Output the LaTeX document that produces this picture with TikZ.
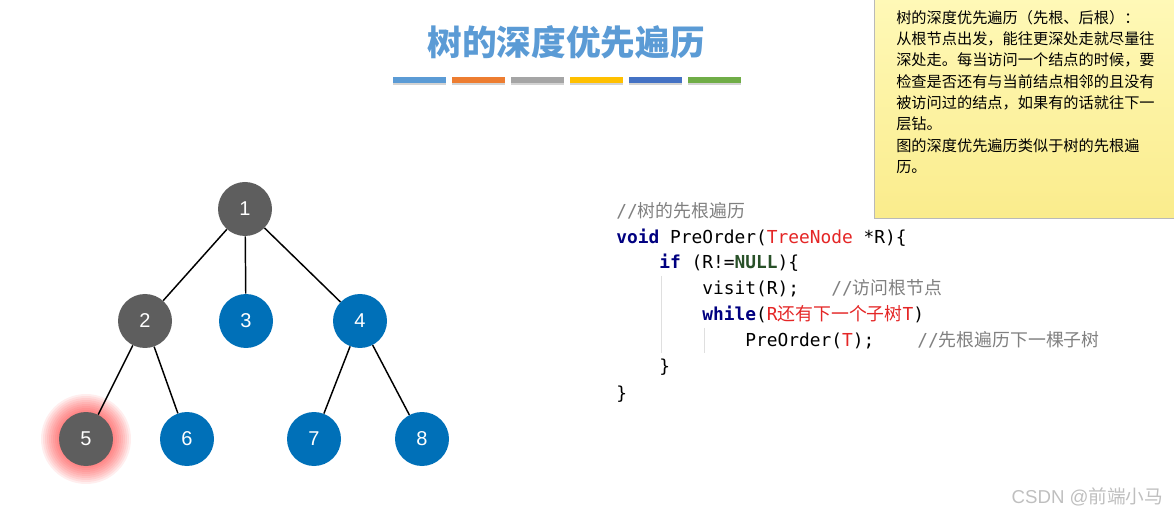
\documentclass[tikz,border=0pt]{standalone}
\usepackage{fontspec}
\setmainfont{Liberation Sans}
\setmonofont{DejaVu Sans Mono}
\newfontfamily\cjk{Noto Sans CJK SC}
\usetikzlibrary{positioning, shadows}
\definecolor{TitleBlue}{RGB}{91,155,213}
\definecolor{BarOrange}{RGB}{237,125,49}
\definecolor{BarGray}{RGB}{165,165,165}
\definecolor{BarYellow}{RGB}{255,192,0}
\definecolor{BarBlue}{RGB}{68,114,196}
\definecolor{BarGreen}{RGB}{112,173,71}
\definecolor{NodeGray}{RGB}{94,94,94}
\definecolor{NodeBlue}{RGB}{0,112,184}
\definecolor{KwBlue}{RGB}{0,0,128}
\definecolor{KwGreen}{RGB}{40,80,40}
\definecolor{CodeRed}{RGB}{228,38,38}
\definecolor{CmtGray}{RGB}{128,128,128}
\definecolor{NoteTop}{RGB}{255,249,184}
\definecolor{NoteBot}{RGB}{250,236,140}
\newcommand{\kw}[1]{\textcolor{KwBlue}{\bfseries #1}}
\newcommand{\cm}[1]{\textcolor{CmtGray}{#1}}
\newcommand{\rd}[1]{\textcolor{CodeRed}{#1}}

\begin{document}
\begin{tikzpicture}[x=0.75pt, y=-0.75pt,
    vtx/.style={circle, minimum size=40.5pt, inner sep=0pt, text=white,
                font=\fontsize{15}{15}\selectfont},
    grayv/.style={vtx, fill=NodeGray},
    bluev/.style={vtx, fill=NodeBlue},
    edge/.style={line width=1.1pt, black},
    code/.style={anchor=base west, inner sep=0pt, font=\fontsize{13.4}{13.4}\ttfamily},
    bar/.style={minimum width=39.75pt, minimum height=4.8pt, inner sep=0pt,
                drop shadow={shadow xshift=0.6pt, shadow yshift=-1.6pt, opacity=0.35}}
]
\useasboundingbox (0,0) rectangle (1174,516);

% title and coloured bars
\node[font=\cjk\bfseries\fontsize{26}{26}\selectfont, text=TitleBlue] (title) at (566,42) {树的深度优先遍历};
\foreach \c [count=\i] in {TitleBlue, BarOrange, BarGray, BarYellow, BarBlue, BarGreen}
    \node[bar, fill=\c] (bar\i) at ({360+59*\i},80) {};

% note box
\shade[top color=NoteTop, bottom color=NoteBot, draw=gray!55] (874,-5) rectangle (1180,218);
\node[anchor=north west, inner sep=0pt, align=left,
      font=\cjk\fontsize{11.4}{16}\selectfont] (note) at (896,10)
    {树的深度优先遍历（先根、后根）：\\
     从根节点出发，能往更深处走就尽量往\\
     深处走。每当访问一个结点的时候，要\\
     检查是否还有与当前结点相邻的且没有\\
     被访问过的结点，如果有的话就往下一\\
     层钻。\\
     图的深度优先遍历类似于树的先根遍\\
     历。};

% tree
\coordinate (g5) at (86,439);
\foreach \r in {27,29,...,45}
    \fill[red, opacity=0.065] (g5) circle (\r);
\node[grayv] (n1) at (245,209) {1};
\node[grayv] (n2) at (145,321) {2};
\node[bluev] (n3) at (246,321) {3};
\node[bluev] (n4) at (360,321) {4};
\node[grayv] (n5) at (g5) {5};
\node[bluev] (n6) at (187,439) {6};
\node[bluev] (n7) at (314,439) {7};
\node[bluev] (n8) at (422,439) {8};
\foreach \a/\b in {1/2, 1/3, 1/4, 2/5, 2/6, 4/7, 4/8}
    \draw[edge] (n\a) -- (n\b);

% code
\draw[gray!25, line width=0.6pt] (661,276) -- (661,353);
\draw[gray!25, line width=0.6pt] (704,328) -- (704,353);
\node[code] (c1) at (616,218) {\cm{//{\cjk 树的先根遍历}}};
\node[code] (c2) at (616,244) {\kw{void} PreOrder(\rd{TreeNode} *R)\{};
\node[code] (c3) at (659,269) {\kw{if} (R!=\textcolor{KwGreen}{\bfseries NULL})\{};
\node[code] (c4) at (702,295) {visit(R);\phantom{xxx}\cm{//{\cjk 访问根节点}}};
\node[code] (c5) at (702,321) {\kw{while}(\rd{R{\cjk 还有下一个子树}T})};
\node[code] (c6) at (745,347) {PreOrder(\rd{T});\phantom{xxxx}\cm{//{\cjk 先根遍历下一棵子树}}};
\node[code] (c7) at (659,373) {\}};
\node[code] (c8) at (616,399) {\}};

% watermark
\node[anchor=east, text=gray!50, font=\fontsize{14}{14}\selectfont] (mark) at (1168,497)
    {CSDN @{\cjk 前端小马}};
\end{tikzpicture}
\end{document}
